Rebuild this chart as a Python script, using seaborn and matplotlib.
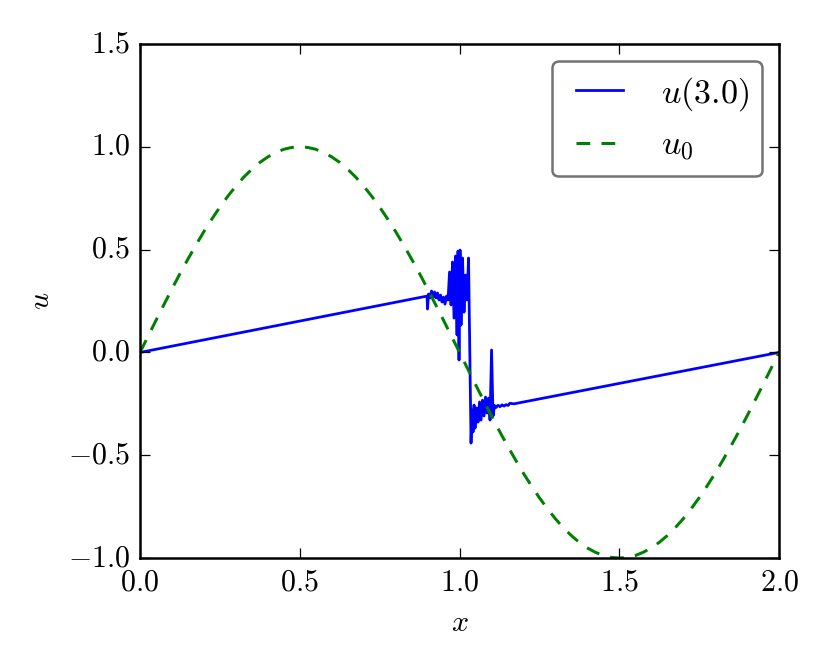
import matplotlib
matplotlib.use("Agg")
import matplotlib.pyplot as plt
from matplotlib.ticker import FuncFormatter
import seaborn as sns
import pandas as pd

plt.style.use("classic")
plt.rcParams["mathtext.fontset"] = "cm"
plt.rcParams["font.family"] = ["DejaVu Serif"]

# u(3.0): numerical solution
x_sol = [0.0, 0.8983, 0.8998, 0.9030, 0.9077, 0.9124, 0.9171, 0.9218, 0.9264, 0.9311,
         0.9358, 0.9405, 0.9452, 0.9499, 0.9546, 0.9593, 0.9640, 0.9687, 0.9734, 0.9781,
         0.9828, 0.9875, 0.9922, 0.9953, 0.9984, 1.0016, 1.0047, 1.0094, 1.0141, 1.0188,
         1.0235, 1.0282, 1.0360, 1.0391, 1.0423, 1.0454, 1.0485, 1.0532, 1.0579, 1.0626,
         1.0673, 1.0720, 1.0767, 1.0814, 1.0861, 1.0908, 1.0955, 1.1002, 1.1049, 1.1096,
         1.1142, 1.1205, 1.1268, 1.1330, 1.1393, 1.1455, 1.1518, 1.1581, 1.1643, 1.1706,
         2.0]
u_sol = [0.0, 0.274, 0.211, 0.284, 0.265, 0.299, 0.269, 0.294, 0.265, 0.289,
         0.255, 0.279, 0.245, 0.269, 0.235, 0.274, 0.255, 0.391, 0.231, 0.440,
         0.167, 0.469, 0.085, 0.493, -0.037, 0.498, 0.133, 0.459, 0.196, 0.376,
         0.255, 0.459, -0.441, -0.280, -0.387, -0.256, -0.368, -0.270, -0.339, -0.241,
         -0.329, -0.232, -0.309, -0.217, -0.295, -0.222, -0.329, 0.012, -0.309, -0.258,
         -0.268, -0.257, -0.264, -0.255, -0.261, -0.254, -0.258, -0.247, -0.249, -0.250,
         0.0]

# u0: initial condition
x_init = [0.000, 0.025, 0.050, 0.075, 0.100, 0.125, 0.150, 0.175, 0.200, 0.225,
          0.250, 0.275, 0.300, 0.325, 0.350, 0.375, 0.400, 0.425, 0.450, 0.475,
          0.500, 0.525, 0.550, 0.575, 0.600, 0.625, 0.650, 0.675, 0.700, 0.725,
          0.750, 0.775, 0.800, 0.825, 0.850, 0.875, 0.900, 0.925, 0.950, 0.975,
          1.000, 1.025, 1.050, 1.075, 1.100, 1.125, 1.150, 1.175, 1.200, 1.225,
          1.250, 1.275, 1.300, 1.325, 1.350, 1.375, 1.400, 1.425, 1.450, 1.475,
          1.500, 1.525, 1.550, 1.575, 1.600, 1.625, 1.650, 1.675, 1.700, 1.725,
          1.750, 1.775, 1.800, 1.825, 1.850, 1.875, 1.900, 1.925, 1.950, 1.975,
          2.000]
u_init = [0.000, 0.078, 0.156, 0.233, 0.309, 0.383, 0.454, 0.522, 0.588, 0.649,
          0.707, 0.760, 0.809, 0.853, 0.891, 0.924, 0.951, 0.972, 0.988, 0.997,
          1.000, 0.997, 0.988, 0.972, 0.951, 0.924, 0.891, 0.853, 0.809, 0.760,
          0.707, 0.649, 0.588, 0.522, 0.454, 0.383, 0.309, 0.233, 0.156, 0.078,
          0.000, -0.078, -0.156, -0.233, -0.309, -0.383, -0.454, -0.522, -0.588, -0.649,
          -0.707, -0.760, -0.809, -0.853, -0.891, -0.924, -0.951, -0.972, -0.988, -0.997,
          -1.000, -0.997, -0.988, -0.972, -0.951, -0.924, -0.891, -0.853, -0.809, -0.760,
          -0.707, -0.649, -0.588, -0.522, -0.454, -0.383, -0.309, -0.233, -0.156, -0.078,
          0.000]

labels = [r"$u(3.0)$", r"$u_0$"]
x_ticks = [0.0, 0.5, 1.0, 1.5, 2.0]
y_ticks = [-1.0, -0.5, 0.0, 0.5, 1.0, 1.5]

df_sol = pd.DataFrame({"x": x_sol, "u": u_sol})
df_init = pd.DataFrame({"x": x_init, "u": u_init})

fig = plt.figure(figsize=(830 / 180, 664 / 180), dpi=180, facecolor="white")
ax = fig.add_axes([0.1687, 0.1596, 0.7699, 0.7741])

sns.lineplot(data=df_sol, x="x", y="u", sort=False, estimator=None, color="b",
             linewidth=1.1, label=labels[0], ax=ax)
sns.lineplot(data=df_init, x="x", y="u", sort=False, estimator=None, color="g",
             linewidth=1.2, linestyle=(0, (5.5, 4.5)), label=labels[1], ax=ax)

ax.set_xlim(0, 2)
ax.set_ylim(-1.0, 1.5)
ax.set_xticks(x_ticks)
ax.set_yticks(y_ticks)
fmt = FuncFormatter(lambda v, p: r"$%.1f$" % v)
ax.xaxis.set_major_formatter(fmt)
ax.yaxis.set_major_formatter(fmt)
ax.tick_params(labelsize=12)
ax.set_xlabel(r"$x$", fontsize=12)
ax.set_ylabel(r"$u$", fontsize=12)

leg = ax.legend(loc="upper right", fancybox=True, fontsize=13.6)
leg.get_frame().set_edgecolor("0.45")

fig.savefig("out.png", dpi=180, facecolor="white")
